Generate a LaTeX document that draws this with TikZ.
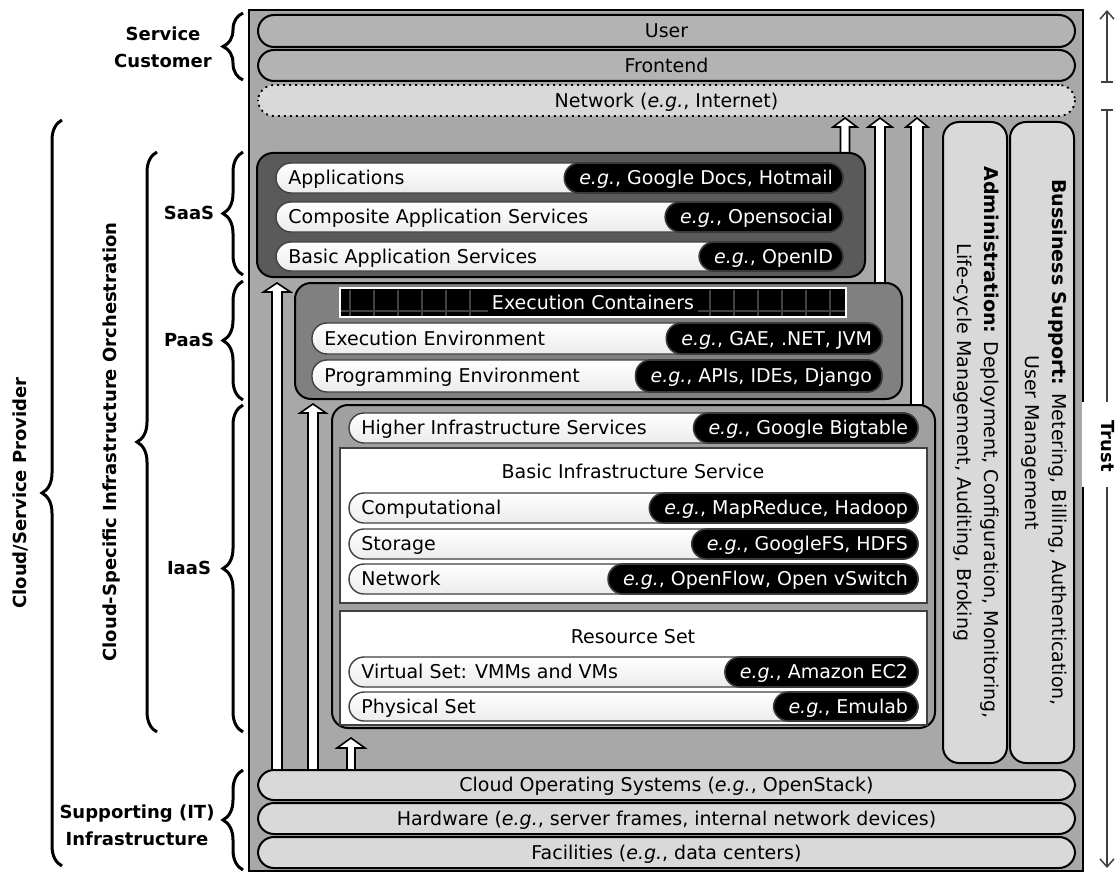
\documentclass[tikz,border=0pt]{standalone}
\usepackage{fontspec}
\setmainfont{DejaVu Sans}
\usetikzlibrary{decorations.pathreplacing,arrows.meta}
\definecolor{bgmain}{HTML}{A8A8A8}
\definecolor{toprow}{HTML}{B3B3B3}
\definecolor{lightrow}{HTML}{D9D9D9}
\definecolor{saasbg}{HTML}{5A5A5A}
\definecolor{paasbg}{HTML}{808080}
\definecolor{iaasbg}{HTML}{A0A0A0}
\definecolor{darkline}{HTML}{404040}
\newcommand\bx[6]{\node[#6, anchor=north west, minimum width={(#4-#2)*0.5pt}, minimum height={(#5-#3)*0.5pt}] (#1) at (#2,#3) {};}
\newcommand\wrow[7]{%
  \bx{#1}{#2}{#3}{#4}{#5}{wrow}
  \node[egpill, minimum height={(#5-#3)*0.5pt}, anchor=east] (#1e) at (#1.east) {#7};
  \node[txt, anchor=west] (#1t) at ([xshift=6pt]#1.west) {#6};}
\newcommand\uparr[6]{%
  \draw[blockarrow] (#1-#4,#2) -- (#1-#4,#3+#6) -- (#1-#5,#3+#6) -- (#1,#3) -- (#1+#5,#3+#6) -- (#1+#4,#3+#6) -- (#1+#4,#2) -- cycle;}
\begin{document}
\begin{tikzpicture}[x=0.5pt,y=-0.5pt, font=\fontsize{9.5}{13}\selectfont,
  box/.style={draw=black, line width=1pt, inner sep=0pt, outer sep=0pt},
  pillrow/.style={box, rounded corners=8pt},
  toprowst/.style={pillrow, fill=toprow},
  lightrowst/.style={pillrow, fill=lightrow},
  netrow/.style={pillrow, fill=lightrow, dotted, line width=0.9pt},
  wrow/.style={draw=darkline, line width=0.7pt, rounded corners=7.5pt, top color=white, bottom color=gray!15, inner sep=0pt, outer sep=0pt},
  egpill/.style={fill=black, draw=gray!45!black, line width=0.8pt, text=white, rounded corners=7.5pt, inner xsep=5pt, inner ysep=0pt, outer sep=0pt, text height=8.9pt, text depth=2pt, execute at begin node={\kern2.5pt}},
  txt/.style={inner sep=0pt, text height=8.9pt, text depth=2pt},
  panel/.style={draw=darkline, line width=0.8pt, fill=white, inner sep=0pt, outer sep=0pt},
  layer/.style={draw=black, line width=1pt, rounded corners=8pt, inner sep=0pt, outer sep=0pt},
  col/.style={layer, fill=lightrow},
  blockarrow/.style={fill=white, draw=black, line width=0.8pt, line join=miter},
  bracest/.style={decorate, decoration={brace, amplitude=10pt}, line width=1.5pt},
  lbl/.style={font=\fontsize{9}{13.5}\selectfont\bfseries, align=center, inner sep=0pt},
  tline/.style={draw=darkline, line width=0.75pt},
  gridline/.style={draw=darkline, line width=0.6pt}]
\useasboundingbox (0,0) rectangle (1119,872);
% main frame
\bx{main}{249}{10}{1083}{871}{box, fill=bgmain}
% trust axis
\fill[white] (1081.5,402) rectangle (1119,487);
\coordinate (t0) at (1107,10);
\coordinate (t1) at (1107,82);
\coordinate (t2) at (1107,110);
\coordinate (t3) at (1107,868);
\draw[tline, {Straight Barb[length=4pt,width=7pt]}-] (t0) -- (t1);
\draw[tline] ([xshift=-3pt]t1) -- ([xshift=3pt]t1);
\draw[tline] ([xshift=-3pt]t2) -- ([xshift=3pt]t2);
\draw[tline] (t2) -- (1107,402);
\draw[tline, -{Straight Barb[length=4pt,width=7pt]}] (1107,487) -- (t3);
\node[lbl, rotate=-90] (trust) at (1108,446) {Trust};
% top rows
\bx{user}{258}{15}{1075}{47}{toprowst}
\node[txt] (usert) at (user.center) {User};
\bx{front}{258}{50}{1075}{81}{toprowst}
\node[txt] (frontt) at (front.center) {Frontend};
\bx{net}{258}{85}{1075}{116}{netrow}
\node[txt] (nett) at (net.center) {Network (\textit{e.g.}, Internet)};
% block arrows
\uparr{277}{772}{283}{5}{13.5}{9}
\uparr{313}{772}{404}{5}{13}{9}
\uparr{351}{772}{738}{4}{14}{10}
\uparr{845}{156}{118}{4.5}{12}{9}
\uparr{880}{286}{118}{5}{12}{9}
\uparr{917}{408}{118}{6}{11}{9}
% SaaS
\bx{saas}{257}{153}{865}{277}{layer, fill=saasbg}
\wrow{app}{276}{163}{843}{193}{Applications}{\textit{e.g.}, Google Docs, Hotmail}
\wrow{comp}{276}{202}{843}{232}{Composite Application Services}{\textit{e.g.}, Opensocial}
\wrow{basic}{276}{242}{843}{271}{Basic Application Services}{\textit{e.g.}, OpenID}
% PaaS
\bx{paas}{295}{283}{902}{399}{layer, fill=paasbg}
\bx{ec}{340}{288}{846}{317}{draw=white, line width=1pt, fill=black, inner sep=0pt, outer sep=0pt}
\foreach \gx in {350,374,...,842} \draw[gridline] (\gx,289.5) -- (\gx,315.5);
\draw[gridline] (341,311) -- (845,311);
\node[txt, fill=black, text=white, inner xsep=2pt, minimum height=13.5pt] (ect) at (ec.center) {Execution Containers};
\wrow{exe}{312}{323}{882}{354}{Execution Environment}{\textit{e.g.}, GAE, .NET, JVM}
\wrow{prog}{312}{360}{882}{392}{Programming Environment}{\textit{e.g.}, APIs, IDEs, Django}
% IaaS
\bx{iaas}{332}{405}{935}{728}{layer, fill=iaasbg}
\wrow{higher}{349}{413}{918}{443}{Higher Infrastructure Services}{\textit{e.g.}, Google Bigtable}
\bx{bis}{340}{448}{927}{603}{panel}
\node[txt] (bist) at (633,472) {Basic Infrastructure Service};
\wrow{compu}{349}{493}{918}{523}{Computational}{\textit{e.g.}, MapReduce, Hadoop}
\wrow{stor}{349}{529}{918}{559}{Storage}{\textit{e.g.}, GoogleFS, HDFS}
\wrow{netw}{349}{564}{918}{594}{Network}{\textit{e.g.}, OpenFlow, Open vSwitch}
\bx{rs}{340}{611}{927}{725}{panel}
\node[txt] (rst) at (633,637) {Resource Set};
\wrow{virt}{349}{657}{918}{687}{Virtual Set: VMMs and VMs}{\textit{e.g.}, Amazon EC2}
\wrow{phys}{349}{692}{918}{721}{Physical Set}{\textit{e.g.}, Emulab}
% side columns
\bx{admin}{943}{122}{1007}{763}{col}
\node[rotate=-90, align=center, inner sep=0pt, font=\fontsize{9.5}{13.5}\selectfont] (admint) at (976,442.5) {\textbf{Administration:} Deployment, Configuration, Monitoring,\\Life-cycle Management, Auditing, Broking};
\bx{biz}{1010}{122}{1074}{763}{col}
\node[rotate=-90, align=center, inner sep=0pt, font=\fontsize{9.5}{13.5}\selectfont] (bizt) at (1044,442.5) {\textbf{Bussiness Support:} Metering, Billing, Authentication,\\User Management};
% bottom rows
\bx{cos}{258}{770}{1075}{800}{lightrowst}
\node[txt] (cost) at (cos.center) {Cloud Operating Systems (\textit{e.g.}, OpenStack)};
\bx{hw}{258}{803}{1075}{834}{lightrowst}
\node[txt] (hwt) at (hw.center) {Hardware (\textit{e.g.}, server frames, internal network devices)};
\bx{fac}{258}{837}{1075}{868}{lightrowst}
\node[txt] (fact) at (fac.center) {Facilities (\textit{e.g.}, data centers)};
% braces and labels
\draw[bracest] (243,80) -- (243,13);
\node[lbl] (sc) at (163,47.5) {Service\\Customer};
\draw[bracest] (62,866) -- (62,120);
\node[lbl, rotate=90] (csp) at (20,493) {Cloud/Service Provider};
\draw[bracest] (157,732) -- (157,152);
\node[lbl, rotate=90] (csio) at (112,442) {Cloud-Specific Infrastructure Orchestration};
\draw[bracest] (243,275) -- (243,152);
\node[lbl] (saasl) at (189,213) {SaaS};
\draw[bracest] (243,400) -- (243,281);
\node[lbl] (paasl) at (189,340) {PaaS};
\draw[bracest] (243,732) -- (243,405);
\node[lbl] (iaasl) at (189,568) {IaaS};
\draw[bracest] (243,870) -- (243,770);
\node[lbl] (supl) at (137,825) {Supporting (IT)\\Infrastructure};
\end{tikzpicture}
\end{document}
